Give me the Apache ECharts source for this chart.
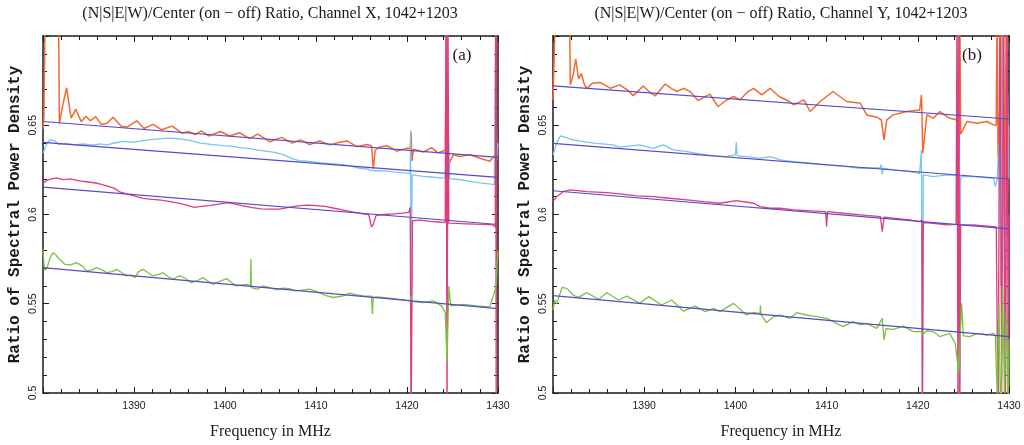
<!DOCTYPE html>
<html>
<head>
<meta charset="utf-8">
<script src="https://cdn.jsdelivr.net/npm/echarts@6/dist/echarts.min.js"></script>
<style>
  html, body { margin: 0; padding: 0; background: #fff; }
  #chart { width: 1024px; height: 445px; }
</style>
</head>
<body>
<div id="chart"></div>
<script>
// [frequency MHz, ratio]
const orangeX = [
  [1380.0,0.648],[1380.1,0.655],[1380.25,0.72],[1381.7,0.72],[1381.8,0.651],[1382.2,0.662],[1382.6,0.671],[1382.9,0.660],
  [1383.1,0.654],[1383.6,0.659],[1384.2,0.652],[1384.7,0.655],[1385.2,0.6525],[1385.8,0.6548],[1386.4,0.6505],[1387.0,0.651],
  [1387.7,0.6545],[1388.6,0.6495],[1389.2,0.649],[1390.3,0.6525],[1391.1,0.6482],[1392.1,0.6505],[1393.0,0.6475],[1394.2,0.6495],
  [1395.3,0.6455],[1396.0,0.6465],[1396.7,0.6448],[1397.4,0.6468],[1398.2,0.644],[1399.5,0.6465],[1400.5,0.644],[1401.6,0.6458],
  [1402.7,0.6425],[1403.6,0.645],[1404.9,0.6408],[1406.2,0.6432],[1407.4,0.64],[1408.3,0.6418],[1409.3,0.6392],[1410.4,0.6412],
  [1411.5,0.639],[1412.6,0.6405],[1413.4,0.6412],[1414.5,0.638],[1415.6,0.6392],[1416.1,0.6385],[1416.3,0.6255],[1416.5,0.636],
  [1417.0,0.6378],[1417.8,0.6385],[1418.9,0.6355],[1420.0,0.6372],[1420.35,0.637],[1420.45,0.646],[1420.55,0.63],[1420.7,0.6365],
  [1421.8,0.635],[1422.7,0.6375],[1423.4,0.6345],[1424.2,0.636],[1424.35,0.72],[1424.45,0.72],[1424.5,0.622],[1424.7,0.6295],
  [1425.1,0.6335],[1425.8,0.6325],[1426.9,0.6335],[1428.0,0.6315],[1429.1,0.6298],[1429.6,0.633],[1430.0,0.6345]
];
const blueX = [
  [1380.0,0.6345],[1380.4,0.6395],[1380.8,0.642],[1381.0,0.643],[1381.3,0.6412],[1381.7,0.6393],[1382.5,0.6398],[1383.5,0.639],
  [1384.4,0.6395],[1385.5,0.6388],[1386.3,0.6396],[1387.0,0.639],[1388.0,0.6402],[1388.8,0.641],[1390.0,0.6406],[1391.0,0.6414],
  [1391.8,0.6419],[1393.0,0.6425],[1394.0,0.6428],[1395.0,0.6424],[1395.8,0.6418],[1396.6,0.641],[1397.3,0.64],[1398.7,0.6392],
  [1399.8,0.6386],[1400.9,0.6382],[1401.6,0.6375],[1402.4,0.6372],[1403.5,0.6362],[1404.6,0.6354],[1405.5,0.6348],[1406.4,0.6335],
  [1407.5,0.631],[1408.2,0.6302],[1409.3,0.6298],[1410.4,0.629],[1411.5,0.6286],[1412.6,0.628],[1413.5,0.6275],[1414.5,0.6262],
  [1415.6,0.6255],[1416.2,0.6245],[1416.4,0.6238],[1417.0,0.6245],[1417.8,0.6243],[1418.9,0.6236],[1420.0,0.6232],[1420.35,0.623],
  [1420.4,0.647],[1420.45,0.48],[1420.55,0.6222],[1421.8,0.6214],[1422.7,0.621],[1423.5,0.6205],[1424.2,0.6205],[1424.35,0.659],
  [1424.45,0.585],[1424.55,0.645],[1424.7,0.62],[1425.8,0.6196],[1426.9,0.6186],[1428.0,0.6177],[1429.2,0.617],[1429.6,0.6168],
  [1429.75,0.72],[1429.85,0.63],[1430.0,0.64]
];
const magentaX = [
  [1380.0,0.6175],[1380.4,0.619],[1380.8,0.6198],[1381.5,0.6205],[1382.2,0.6195],[1383.0,0.62],[1384.0,0.6188],[1385.0,0.6182],
  [1386.0,0.6175],[1387.0,0.616],[1387.8,0.6148],[1388.5,0.6125],[1389.2,0.6115],[1390.0,0.6105],[1391.0,0.609],[1392.0,0.6085],
  [1393.0,0.608],[1394.0,0.6072],[1395.0,0.6062],[1395.8,0.6052],[1396.6,0.604],[1397.4,0.6045],[1398.3,0.605],[1399.3,0.6058],
  [1400.3,0.6066],[1401.0,0.606],[1402.0,0.6048],[1403.0,0.6038],[1404.0,0.6032],[1405.0,0.603],[1406.0,0.603],[1407.0,0.604],
  [1408.0,0.6048],[1409.0,0.6052],[1410.0,0.605],[1411.0,0.6045],[1412.0,0.6035],[1413.0,0.6025],[1414.0,0.6015],[1415.0,0.6005],
  [1415.8,0.6],[1416.1,0.593],[1416.3,0.5945],[1416.6,0.5995],[1417.5,0.6],[1418.5,0.6003],[1419.5,0.6008],[1420.2,0.6012],
  [1420.35,0.604],[1420.45,0.48],[1420.6,0.5965],[1421.5,0.5968],[1422.5,0.5962],[1423.5,0.5958],[1424.2,0.5955],[1424.3,0.72],
  [1424.4,0.48],[1424.5,0.72],[1424.6,0.5952],[1425.5,0.595],[1426.5,0.5948],[1427.5,0.5946],[1428.5,0.5945],[1429.4,0.5942],
  [1429.7,0.593],[1429.75,0.72],[1429.8,0.48],[1429.85,0.72]
];
const greenX = [
  [1380.0,0.5805],[1380.15,0.569],[1380.4,0.5695],[1380.8,0.576],[1381.1,0.5786],[1381.4,0.5775],[1381.7,0.5755],[1382.4,0.5721],
  [1383.0,0.5718],[1383.7,0.573],[1384.3,0.5712],[1384.8,0.5684],[1385.4,0.569],[1385.9,0.5702],[1386.5,0.569],[1387.0,0.5674],
  [1387.6,0.568],[1388.1,0.5693],[1388.7,0.5672],[1389.2,0.5656],[1389.7,0.566],[1390.1,0.5646],[1390.5,0.568],[1391.0,0.5693],
  [1391.5,0.5675],[1392.1,0.5656],[1392.7,0.5665],[1393.2,0.5674],[1393.8,0.565],[1394.3,0.5637],[1394.7,0.565],[1395.1,0.5656],
  [1395.7,0.564],[1396.3,0.5618],[1397.0,0.563],[1397.6,0.5646],[1398.2,0.5625],[1398.7,0.5609],[1399.4,0.5625],[1400.2,0.5641],
  [1400.8,0.5615],[1401.3,0.56],[1401.9,0.5605],[1402.4,0.5609],[1402.8,0.56],[1402.85,0.5749],[1402.9,0.559],[1403.5,0.5581],
  [1404.2,0.56],[1404.9,0.559],[1405.7,0.5577],[1406.3,0.5588],[1407.1,0.5585],[1407.6,0.5572],[1408.2,0.5575],[1409.3,0.5582],
  [1410.2,0.5565],[1411.2,0.5544],[1411.9,0.5535],[1413.0,0.5544],[1413.7,0.5559],[1414.5,0.555],[1415.2,0.5544],[1416.1,0.5542],
  [1416.2,0.5441],[1416.3,0.5535],[1416.7,0.5538],[1418.1,0.5531],[1419.2,0.5525],[1420.3,0.5516],[1420.5,0.5545],[1420.6,0.5512],
  [1421.8,0.5507],[1422.9,0.5516],[1423.8,0.5488],[1424.2,0.5452],[1424.4,0.5171],[1424.6,0.56],[1424.8,0.5488],[1426.2,0.5497],
  [1427.7,0.5488],[1429.1,0.5482],[1429.7,0.5581],[1429.8,0.5609],[1429.9,0.572],[1430.0,0.58]
];

const orangeY = [
  [1380.0,0.6642],[1380.1,0.665],[1380.3,0.72],[1381.8,0.72],[1381.9,0.6726],[1382.2,0.678],[1382.5,0.687],[1382.8,0.676],
  [1383.1,0.679],[1383.4,0.6735],[1383.7,0.6705],[1384.3,0.6735],[1385.2,0.6739],[1385.7,0.6725],[1386.3,0.6707],[1387.3,0.6726],
  [1388.1,0.67],[1388.8,0.6666],[1389.9,0.672],[1390.5,0.669],[1391.2,0.6664],[1392.3,0.6731],[1393.0,0.6705],[1393.6,0.6689],
  [1394.3,0.6707],[1395.0,0.669],[1395.9,0.6638],[1396.5,0.6655],[1397.2,0.6674],[1398.1,0.6605],[1399.0,0.664],[1399.8,0.6661],
  [1400.5,0.6642],[1401.3,0.6685],[1402.0,0.6707],[1402.9,0.667],[1403.8,0.6707],[1404.8,0.6661],[1405.9,0.6633],[1406.4,0.6614],
  [1407.5,0.6642],[1408.2,0.6577],[1409.3,0.6633],[1410.7,0.6689],[1412.2,0.6633],[1413.7,0.6623],[1414.4,0.6558],[1415.5,0.6545],
  [1416.0,0.653],[1416.3,0.6418],[1416.6,0.653],[1417.3,0.6558],[1418.8,0.6577],[1420.2,0.6586],[1420.4,0.667],[1420.55,0.6343],
  [1421.0,0.656],[1421.7,0.6539],[1422.4,0.6577],[1423.5,0.6539],[1424.3,0.653],[1424.4,0.681],[1424.5,0.6324],[1424.6,0.72],
  [1424.7,0.645],[1425.4,0.6521],[1426.5,0.6511],[1427.6,0.6521],[1428.3,0.6502],[1428.6,0.65],[1428.7,0.72],[1428.8,0.632],
  [1429.0,0.66],[1429.1,0.72],[1429.2,0.62],[1429.4,0.72],[1429.5,0.55],[1429.7,0.72],[1429.8,0.6],[1430.0,0.65]
];
const blueY = [
  [1380.0,0.6334],[1380.4,0.64],[1380.8,0.644],[1381.1,0.6436],[1382.2,0.6418],[1383.3,0.6408],[1384.8,0.6399],[1386.6,0.639],
  [1387.3,0.6377],[1388.5,0.6385],[1389.5,0.639],[1391.0,0.6371],[1392.1,0.639],[1393.2,0.6362],[1394.7,0.6352],[1396.1,0.6339],
  [1397.6,0.6328],[1399.0,0.6324],[1400.0,0.6334],[1400.1,0.6403],[1400.2,0.633],[1401.2,0.6324],[1402.7,0.6315],[1403.8,0.6324],
  [1404.9,0.6306],[1406.4,0.6296],[1408.2,0.6287],[1410.0,0.6278],[1412.2,0.6268],[1413.7,0.6259],[1415.9,0.6262],[1416.0,0.628],
  [1416.1,0.6225],[1416.2,0.626],[1417.3,0.625],[1419.1,0.624],[1420.2,0.6231],[1420.4,0.6362],[1420.5,0.48],[1420.6,0.6222],
  [1421.7,0.6212],[1423.2,0.6222],[1424.3,0.622],[1424.45,0.72],[1424.55,0.48],[1424.7,0.6212],[1426.1,0.6212],[1428.3,0.6203],
  [1428.5,0.6156],[1428.7,0.62],[1428.9,0.64],[1429.1,0.56],[1429.3,0.7],[1429.6,0.52],[1429.8,0.68],[1430.0,0.62]
];
const magentaY = [
  [1380.0,0.6072],[1380.4,0.61],[1381.1,0.6128],[1381.9,0.6138],[1383.7,0.6128],[1385.9,0.6123],[1387.3,0.6115],[1389.2,0.6104],
  [1391.0,0.61],[1392.8,0.6091],[1394.7,0.6082],[1396.5,0.6072],[1398.3,0.6063],[1400.1,0.6078],[1402.0,0.6063],[1402.7,0.6044],
  [1403.8,0.6035],[1404.9,0.6035],[1406.4,0.6026],[1409.9,0.6016],[1410.0,0.5932],[1410.1,0.6016],[1411.8,0.6007],[1413.7,0.5998],
  [1415.9,0.5988],[1416.1,0.5904],[1416.3,0.5985],[1417.3,0.5979],[1419.1,0.597],[1420.2,0.596],[1420.45,0.597],[1420.5,0.48],
  [1420.6,0.5955],[1421.7,0.5951],[1423.2,0.5942],[1424.2,0.5945],[1424.3,0.72],[1424.4,0.48],[1424.5,0.72],[1424.6,0.48],
  [1424.7,0.594],[1426.1,0.5942],[1428.3,0.5932],[1428.6,0.593],[1428.8,0.48],[1429.0,0.72],[1429.2,0.5],[1429.4,0.72],
  [1429.6,0.48],[1429.8,0.72],[1429.9,0.5],[1430.0,0.6]
];
const greenY = [
  [1380.0,0.5465],[1380.2,0.5521],[1380.4,0.55],[1381.0,0.5592],[1381.5,0.5586],[1382.2,0.5549],[1382.8,0.5536],[1383.7,0.5562],
  [1385.0,0.5525],[1385.9,0.5562],[1387.2,0.5521],[1388.1,0.5543],[1389.5,0.5502],[1390.5,0.554],[1391.9,0.5493],[1393.0,0.5521],
  [1394.3,0.5459],[1395.6,0.5487],[1396.7,0.5456],[1397.6,0.5474],[1398.3,0.5456],[1399.8,0.5502],[1401.2,0.5437],[1402.0,0.5452],
  [1402.7,0.5446],[1402.75,0.549],[1402.8,0.544],[1403.4,0.5394],[1404.2,0.5428],[1404.9,0.5437],[1406.0,0.5418],[1406.7,0.545],
  [1407.8,0.5437],[1408.9,0.5428],[1410.0,0.5418],[1411.1,0.539],[1411.8,0.5372],[1412.9,0.54],[1413.7,0.5381],[1414.4,0.539],
  [1415.5,0.5362],[1416.1,0.5418],[1416.3,0.5297],[1416.5,0.536],[1417.3,0.5357],[1418.4,0.5375],[1419.5,0.5344],[1420.4,0.5345],
  [1420.5,0.5325],[1421.0,0.535],[1421.7,0.5344],[1422.4,0.5316],[1423.5,0.5334],[1424.1,0.5278],[1424.5,0.511],[1424.8,0.5502],
  [1425.0,0.532],[1425.7,0.5316],[1426.5,0.5334],[1427.6,0.5325],[1428.3,0.5334],[1428.5,0.532],[1428.7,0.5],[1428.9,0.55],
  [1429.1,0.48],[1429.3,0.56],[1429.5,0.5],[1429.7,0.545],[1429.9,0.49],[1430.0,0.53]
];

// straight-line fits: value at 1380 and at 1430 MHz (orange, blue, magenta, green)
const fitFreq = [1380, 1430];
const fitStartX = [0.6521, 0.6404, 0.6153, 0.5702];
const fitEndX = [0.632, 0.6208, 0.5944, 0.5473];
const fitStartY = [0.6721, 0.6399, 0.6133, 0.5545];
const fitEndY = [0.6535, 0.6199, 0.592, 0.5316];

const panelTitles = [
  "(N|S|E|W)/Center (on \u2212 off) Ratio, Channel X, 1042+1203",
  "(N|S|E|W)/Center (on \u2212 off) Ratio, Channel Y, 1042+1203"
];
const panelTags = ["(a)", "(b)"];

const curveColors = ["#f26a30", "#78c6ee", "#e03c7e", "#7cc242"];
const curveWidths = [1.5, 1.3, 1.3, 1.3];
const fitColor = "#5a48c6";
const axisColor = "#1a1a1a";
const serifFont = '"Liberation Serif", serif';
const monoFont = '"Liberation Mono", monospace';
const tickFont = '"Liberation Sans", sans-serif';

const grids = [
  { left: 43, top: 36, width: 455, height: 358 },
  { left: 553, top: 36, width: 456, height: 357 }
];
const titleCenters = [270, 781];
const tagCenters = [462, 972];

function xAxisFor(gridIndex, position) {
  const main = position === "bottom";
  return {
    type: "value",
    gridIndex: gridIndex,
    position: position,
    min: 1380,
    max: 1430,
    interval: 10,
    axisLine: { show: true, onZero: false, lineStyle: { color: axisColor, width: 1.5 } },
    axisTick: { show: true, inside: true, length: 6, lineStyle: { color: axisColor, width: 1 } },
    minorTick: { show: true, splitNumber: 5, length: 4, lineStyle: { color: axisColor, width: 1 } },
    splitLine: { show: false },
    axisLabel: {
      show: main,
      showMinLabel: false,
      formatter: v => String(v),
      color: axisColor,
      fontFamily: tickFont,
      fontSize: 10.5,
      margin: 8
    },
    name: main ? "Frequency in MHz" : "",
    nameLocation: "middle",
    nameGap: 31,
    nameTextStyle: { fontFamily: serifFont, fontSize: 16, color: axisColor }
  };
}

function yAxisFor(gridIndex, position) {
  const main = position === "left";
  return {
    type: "value",
    gridIndex: gridIndex,
    position: position,
    min: 0.5,
    max: 0.7,
    interval: 0.05,
    axisLine: { show: true, onZero: false, lineStyle: { color: axisColor, width: 1.5 } },
    axisTick: { show: true, inside: true, length: 6, lineStyle: { color: axisColor, width: 1 } },
    minorTick: { show: true, splitNumber: 5, length: 4, lineStyle: { color: axisColor, width: 1 } },
    splitLine: { show: false },
    axisLabel: {
      show: main,
      showMaxLabel: false,
      rotate: 90,
      color: axisColor,
      fontFamily: tickFont,
      fontSize: 10.5,
      margin: 4
    },
    name: main ? "Ratio of Spectral Power Density" : "",
    nameLocation: "middle",
    nameGap: 20,
    nameTextStyle: { fontFamily: monoFont, fontWeight: "bold", fontSize: 16, color: axisColor }
  };
}

function curve(data, color, width, axisIndex) {
  return {
    type: "line",
    xAxisIndex: axisIndex,
    yAxisIndex: axisIndex,
    data: data,
    showSymbol: false,
    clip: true,
    silent: true,
    lineStyle: { color: color, width: width },
    itemStyle: { color: color }
  };
}

function fitLine(start, end, axisIndex) {
  return curve([[fitFreq[0], start], [fitFreq[1], end]], fitColor, 1.2, axisIndex);
}

const panelX = [orangeX, blueX, magentaX, greenX];
const panelY = [orangeY, blueY, magentaY, greenY];

const series = [];
panelX.forEach((d, i) => series.push(curve(d, curveColors[i], curveWidths[i], 0)));
panelY.forEach((d, i) => series.push(curve(d, curveColors[i], curveWidths[i], 2)));
fitStartX.forEach((s, i) => series.push(fitLine(s, fitEndX[i], 0)));
fitStartY.forEach((s, i) => series.push(fitLine(s, fitEndY[i], 2)));

const titles = [];
panelTitles.forEach((t, i) => {
  titles.push({
    text: t,
    left: titleCenters[i],
    top: 6,
    padding: 0,
    textAlign: "center",
    textStyle: { fontFamily: serifFont, fontSize: 16, fontWeight: "normal", color: axisColor }
  });
  titles.push({
    text: panelTags[i],
    left: tagCenters[i],
    top: 47,
    padding: 0,
    textAlign: "center",
    textStyle: { fontFamily: serifFont, fontSize: 17, fontWeight: "normal", color: axisColor }
  });
});

const myChart = echarts.init(document.getElementById("chart"), null, { renderer: "canvas" });
myChart.setOption({
  animation: false,
  backgroundColor: "#fff",
  title: titles,
  grid: grids,
  xAxis: [xAxisFor(0, "bottom"), xAxisFor(0, "top"), xAxisFor(1, "bottom"), xAxisFor(1, "top")],
  yAxis: [yAxisFor(0, "left"), yAxisFor(0, "right"), yAxisFor(1, "left"), yAxisFor(1, "right")],
  series: series
});
</script>
</body>
</html>
